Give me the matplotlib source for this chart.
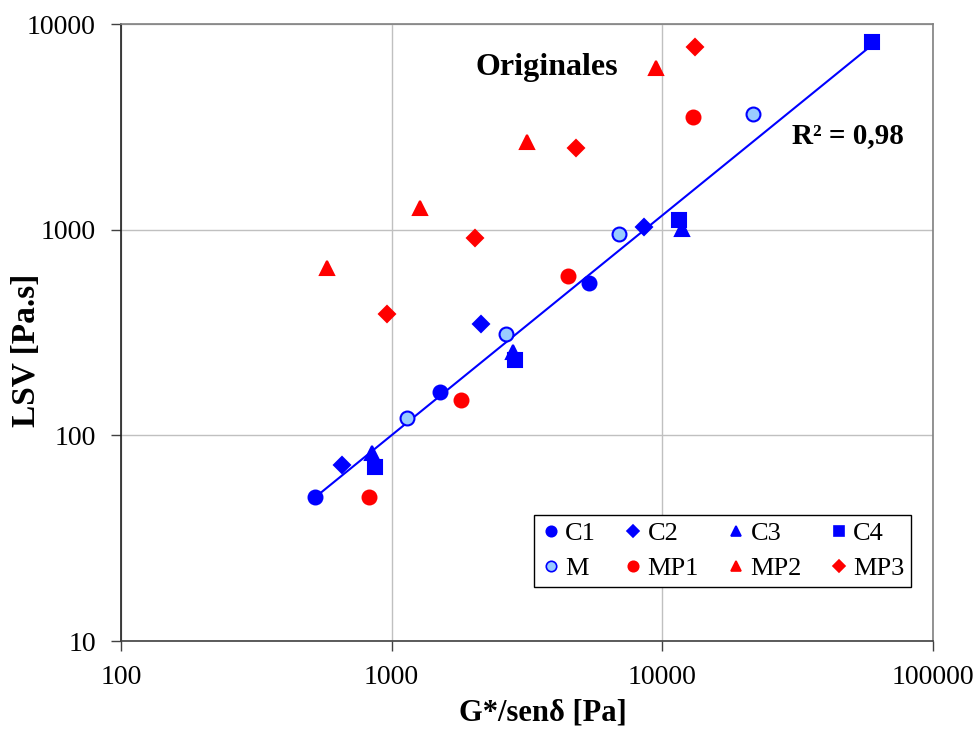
import numpy as np
import matplotlib
matplotlib.use("Agg")
import matplotlib.pyplot as plt
from matplotlib.lines import Line2D

plt.rcParams['font.family'] = ['Liberation Serif', 'DejaVu Serif']

# Data (G*/sen d [Pa], LSV [Pa.s])
c1_x = [520, 1512, 5346]
c1_y = [50, 163, 552]
c2_x = [656, 2130, 8584]
c2_y = [72, 347, 1034]
c3_x = [844, 2803, 11785]
c3_y = [82, 254, 1005]
c4_x = [866, 2860, 11555, 59400]
c4_y = [70, 233, 1115, 8147]
m_x = [1143, 2650, 6898, 21540]
m_y = [121, 310, 953, 3639]
mp1_x = [823, 1797, 4473, 13016]
mp1_y = [50, 149, 598, 3542]
mp2_x = [579, 1269, 3167, 9480]
mp2_y = [649, 1271, 2660, 6090]
mp3_x = [964, 2024, 4804, 13206]
mp3_y = [387, 914, 2487, 7703]

x_ticks = [100, 1000, 10000, 100000]
y_ticks = [10, 100, 1000, 10000]

blue = '#0000FF'
red = '#FF0000'
light = '#99CCFF'

fig = plt.figure(figsize=(9.78, 7.29), dpi=100)
ax = fig.add_axes([0.1237, 0.1207, 0.954 - 0.1237, 0.967 - 0.1207])
ax.set_xscale('log')
ax.set_yscale('log')
ax.set_xlim(100, 100000)
ax.set_ylim(10, 10000)

# power-law trend of the blue (C/M) series
fx = np.array(c1_x + c2_x + c3_x + c4_x + m_x, dtype=float)
fy = np.array(c1_y + c2_y + c3_y + c4_y + m_y, dtype=float)
b, a = np.polyfit(np.log10(fx), np.log10(fy), 1)
tx = np.array([fx.min(), fx.max()])
ax.plot(tx, 10 ** (a + b * np.log10(tx)), color=blue, lw=1.5, zorder=2)

ms = 10
series = [
    ('C1', c1_x, c1_y, 'o', blue, blue, ms),
    ('C2', c2_x, c2_y, 'D', blue, blue, ms * 0.8),
    ('C3', c3_x, c3_y, '^', blue, blue, ms),
    ('C4', c4_x, c4_y, 's', blue, blue, ms * 0.95),
    ('M', m_x, m_y, 'o', light, blue, ms),
    ('MP1', mp1_x, mp1_y, 'o', red, red, ms),
    ('MP2', mp2_x, mp2_y, '^', red, red, ms),
    ('MP3', mp3_x, mp3_y, 'D', red, red, ms * 0.8),
]
handles = {}
for name, xs, ys, mk, fc, ec, s in series:
    ax.plot(xs, ys, linestyle='none', marker=mk, markersize=s,
            markerfacecolor=fc, markeredgecolor=ec, markeredgewidth=1.5, zorder=3)
    handles[name] = Line2D([], [], linestyle='none', marker=mk, markersize=s * 0.75,
                           markerfacecolor=fc, markeredgecolor=ec, markeredgewidth=1.2)

order = ['C1', 'M', 'C2', 'MP1', 'C3', 'MP2', 'C4', 'MP3']
leg = ax.legend([handles[k] for k in order], order, ncol=4, loc='lower right',
                bbox_to_anchor=(0.973, 0.0875), fontsize=19, frameon=True, fancybox=False,
                edgecolor='black', framealpha=1, handletextpad=0.15, columnspacing=1.0,
                borderpad=0.25, labelspacing=0.45, handlelength=0.8,
                borderaxespad=0)
leg.get_frame().set_linewidth(1.0)

ax.set_xticks(x_ticks)
ax.set_xticklabels([str(v) for v in x_ticks])
ax.set_yticks(y_ticks)
ax.set_yticklabels([str(v) for v in y_ticks])
ax.minorticks_off()
ax.tick_params(axis='both', which='major', labelsize=20, length=7, width=1,
               direction='out', color='#404040')
ax.tick_params(axis='x', pad=10)
ax.tick_params(axis='y', pad=11)
ax.grid(True, which='major', color='#c0c0c0', lw=1)
ax.set_axisbelow(True)
ax.spines['left'].set_color('#202020')
ax.spines['bottom'].set_color('#404040')
ax.spines['top'].set_color('#808080')
ax.spines['right'].set_color('#808080')
for sp in ax.spines.values():
    sp.set_linewidth(1.2)

ax.set_xlabel('G*/senδ [Pa]', fontsize=22, fontweight='bold')
ax.set_ylabel('LSV [Pa.s]', fontsize=24, fontweight='bold')
ax.xaxis.set_label_coords(0.52, -0.093)
ax.yaxis.set_label_coords(-0.097, 0.4716)

ax.text(0.525, 0.93, 'Originales', transform=ax.transAxes, fontsize=23,
        fontweight='bold', ha='center', va='center')
ax.text(0.964, 0.82, 'R² = 0,98', transform=ax.transAxes, fontsize=21,
        fontweight='bold', ha='right', va='center')

fig.savefig('out.png', dpi=100)
